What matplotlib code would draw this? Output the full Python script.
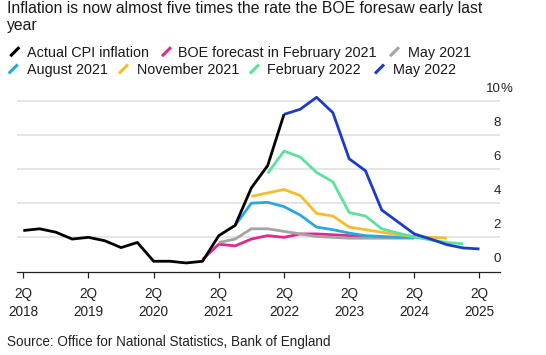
import matplotlib.pyplot as plt
import matplotlib.transforms as mtransforms
from matplotlib.lines import Line2D

plt.rcParams['font.family'] = ['Liberation Sans', 'DejaVu Sans']

W, H = 546, 355

# x = quarters counted from 2Q 2018 (= 0)
tick_q = [0, 4, 8, 12, 16, 20, 24, 28]
tick_labels = ['2Q\n2018', '2Q\n2019', '2Q\n2020', '2Q\n2021',
               '2Q\n2022', '2Q\n2023', '2Q\n2024', '2Q\n2025']
y_ticks = [0, 2, 4, 6, 8, 10]

actual_q = list(range(0, 17))
actual = [2.4, 2.5, 2.3, 1.9, 2.0, 1.8, 1.4, 1.7, 0.6, 0.6, 0.5, 0.6,
          2.1, 2.7, 4.9, 6.2, 9.2]

feb21_q = list(range(11, 24))
feb21 = [0.7, 1.6, 1.5, 1.9, 2.1, 2.0, 2.2, 2.2, 2.15, 2.1, 2.05, 2.0, 2.0]

may21_q = list(range(12, 25))
may21 = [1.7, 1.9, 2.5, 2.5, 2.35, 2.2, 2.05, 2.0, 1.95, 1.95, 1.95, 1.95, 1.95]

aug21_q = list(range(13, 26))
aug21 = [2.7, 4.0, 4.05, 3.8, 3.3, 2.6, 2.45, 2.25, 2.1, 2.05, 2.0, 2.0, 1.95]

nov21_q = list(range(14, 27))
nov21 = [4.4, 4.6, 4.8, 4.45, 3.4, 3.25, 2.6, 2.45, 2.3, 2.15, 2.05, 2.0, 1.95]

feb22_q = list(range(15, 28))
feb22 = [5.75, 7.05, 6.7, 5.8, 5.25, 3.45, 3.25, 2.5, 2.25, 2.02, 1.85, 1.7, 1.62]

may22_q = list(range(16, 29))
may22 = [9.2, 9.5, 10.2, 9.3, 6.6, 5.9, 3.6, 2.9, 2.2, 1.9, 1.57, 1.38, 1.32]

series = [
    ('BOE forecast in February 2021', feb21_q, feb21, '#e2288c'),
    ('May 2021', may21_q, may21, '#a4a4a4'),
    ('August 2021', aug21_q, aug21, '#2aa6e2'),
    ('November 2021', nov21_q, nov21, '#f5bd2a'),
    ('February 2022', feb22_q, feb22, '#5ce29c'),
    ('May 2022', may22_q, may22, '#1a3cc9'),
    ('Actual CPI inflation', actual_q, actual, '#000000'),
]
colors = {name: c for name, _, _, c in series}

fig = plt.figure(figsize=(W / 100, H / 100), dpi=100)
ax = fig.add_axes([17.3 / W, (H - 271.5) / H, (500 - 17.3) / W, 10.6 * 17.08 / H])

for name, q, v, c in series:
    ax.plot(q, v, color=c, lw=2.0, solid_joinstyle='round', solid_capstyle='butt')

ax.set_xlim(-0.37, 29.26)
ax.set_ylim(0, 10.6)

for s in ['top', 'left', 'right']:
    ax.spines[s].set_visible(False)
ax.spines['bottom'].set_color('#222222')
ax.spines['bottom'].set_linewidth(0.9)

ax.set_yticks(y_ticks[1:])
ax.yaxis.grid(True, color='#dedede', lw=1.1)
ax.set_axisbelow(True)
ax.tick_params(axis='y', length=0, labelleft=False)

ax.set_xticks(tick_q)
ax.set_xticklabels(tick_labels, fontsize=9.8, color='#222222', linespacing=1.38)
ax.tick_params(axis='x', length=4.2, width=0.9, color='#222222', pad=6.8)

trans = mtransforms.blended_transform_factory(ax.transAxes, ax.transData)
for v in y_ticks:
    ax.text(1.002, v + 0.53, str(v), transform=trans, ha='right', va='baseline',
            fontsize=9.5, color='#222222')
ax.text(1.002, y_ticks[-1] + 0.53, '%', transform=trans, ha='left', va='baseline',
        fontsize=9.5, color='#222222')

# title, wrapped onto two lines
fig.text(6.7 / W, (H - 12.7) / H,
         'Inflation is now almost five times the rate the BOE foresaw early last',
         fontsize=11.3, color='#1a1a1a', va='baseline')
fig.text(6.7 / W, (H - 30.0) / H, 'year',
         fontsize=11.3, color='#1a1a1a', va='baseline')

# legend with slanted stroke markers
legend_items = [
    ('Actual CPI inflation', 8.3, 26.7, 56.7),
    ('BOE forecast in February 2021', 160, 178.3, 56.7),
    ('May 2021', 388, 408, 56.7),
    ('August 2021', 6.7, 26.7, 74),
    ('November 2021', 117, 136.7, 74),
    ('February 2022', 248, 266.7, 74),
    ('May 2022', 373, 393, 74),
]
for name, mx, tx, base in legend_items:
    fig.add_artist(Line2D([(mx + 2) / W, (mx + 11) / W],
                          [(H - base + 0.5) / H, (H - base + 9.5) / H],
                          transform=fig.transFigure, color=colors[name], lw=2.2,
                          solid_capstyle='butt'))
    fig.text(tx / W, (H - base) / H, name, fontsize=10.4, color='#1a1a1a', va='baseline')

fig.text(7.3 / W, (H - 346) / H, 'Source: Office for National Statistics, Bank of England',
         fontsize=9.75, color='#222222', va='baseline')

fig.savefig('out.png', dpi=100)
